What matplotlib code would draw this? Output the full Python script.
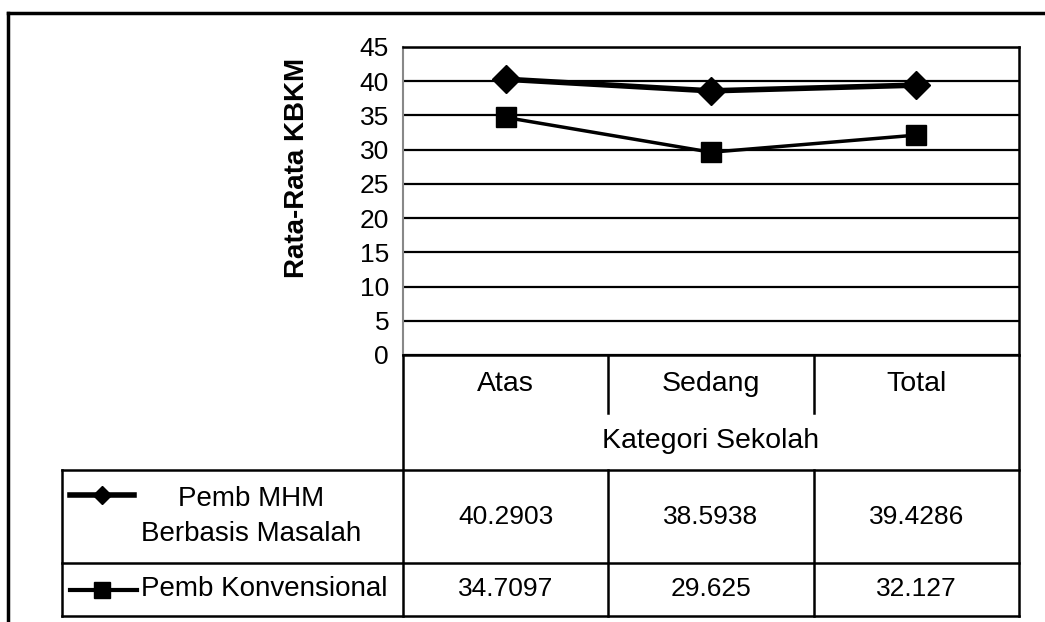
import numpy as np
import matplotlib.pyplot as plt

plt.rcParams['font.family'] = ['Liberation Sans', 'DejaVu Sans']

categories = ['Atas', 'Sedang', 'Total']
mhm = [40.2903, 38.5938, 39.4286]
konv = [34.7097, 29.625, 32.127]
mhm_text = ['40.2903', '38.5938', '39.4286']
konv_text = ['34.7097', '29.625', '32.127']
series_names = ['Pemb MHM\nBerbasis Masalah', 'Pemb Konvensional']
x_title = 'Kategori Sekolah'
y_title = 'Rata-Rata KBKM'

W, H = 1045, 622
fig = plt.figure(figsize=(W / 100, H / 100), dpi=100)

# plot area in pixels
left, right, top, bottom = 403, 1019, 47, 355
ax = fig.add_axes([left / W, 1 - bottom / H, (right - left) / W, (bottom - top) / H])
x = np.arange(len(categories))
ax.plot(x, mhm, color='black', lw=4, marker='D', ms=14, zorder=3)
ax.plot(x, konv, color='black', lw=2.5, marker='s', ms=14.5, zorder=3)
ax.set_xlim(-0.5, len(categories) - 0.5)
ax.set_ylim(0, 45)
ax.set_yticks(np.arange(0, 46, 5))
ax.yaxis.grid(True, color='black', lw=1.6)
ax.set_axisbelow(True)
ax.set_xticks([])
ax.tick_params(axis='y', length=0, labelsize=19, pad=10)
for s in ['top', 'right', 'bottom']:
    ax.spines[s].set_linewidth(1.8)
ax.spines['left'].set_color('#888888')
ax.spines['left'].set_linewidth(1.5)
ax.text(-0.172, 0.607, y_title, transform=ax.transAxes, rotation=90,
        ha='center', va='center', fontsize=20, fontweight='bold')

# table drawn in pixel coordinates
tax = fig.add_axes([0, 0, 1, 1])
tax.set_xlim(0, W)
tax.set_ylim(H, 0)
tax.axis('off')

col_w = (right - left) / len(categories)
col_edges = [left + i * col_w for i in range(len(categories) + 1)]
col_mid = [left + (i + 0.5) * col_w for i in range(len(categories))]
y_hdr, y_kat, y_r1, y_r2 = 413, 470, 563, 616
leg_left = 62
lk = dict(color='black', lw=1.8)

# outer frame
tax.plot([8, 8], [H, 13], color='black', lw=2.5)
tax.plot([8, W], [13, 13], color='black', lw=2.5)

# header cells
tax.plot([left, left], [bottom, y_r2], **lk)
tax.plot([right, right], [bottom, y_r2], **lk)
for xe in col_edges[1:-1]:
    tax.plot([xe, xe], [bottom, y_hdr], **lk)
    tax.plot([xe, xe], [y_kat, y_r2], **lk)
for yy in [y_kat, y_r1, y_r2]:
    tax.plot([leg_left, right], [yy, yy], **lk)
tax.plot([leg_left, leg_left], [y_kat, y_r2], **lk)

for cx, name in zip(col_mid, categories):
    tax.text(cx, (bottom + y_hdr) / 2, name, ha='center', va='center', fontsize=20.5)
tax.text((left + right) / 2, (y_hdr + y_kat) / 2, x_title, ha='center', va='center', fontsize=20.5)

rows = [(mhm_text, series_names[0], 'D', 4, 9), (konv_text, series_names[1], 's', 3, 11)]
bounds = [(y_kat, y_r1), (y_r1, y_r2)]
for (vals, name, mk, lw, ms), (ya, yb) in zip(rows, bounds):
    ym = (ya + yb) / 2
    for cx, v in zip(col_mid, vals):
        tax.text(cx, ym, v, ha='center', va='center', fontsize=19)
    if '\n' in name:
        tax.plot([70, 134], [ym - 22, ym - 22], color='black', lw=lw)
        tax.plot([102], [ym - 22], color='black', marker=mk, ms=ms)
        tax.text(251, ym, name, ha='center', va='center', fontsize=20, linespacing=1.45)
    else:
        tax.plot([70, 137], [ym, ym], color='black', lw=lw)
        tax.plot([102], [ym], color='black', marker=mk, ms=ms)
        tax.text(141, ym, name, ha='left', va='center', fontsize=20)

fig.savefig('out.png', dpi=100, facecolor='white')
